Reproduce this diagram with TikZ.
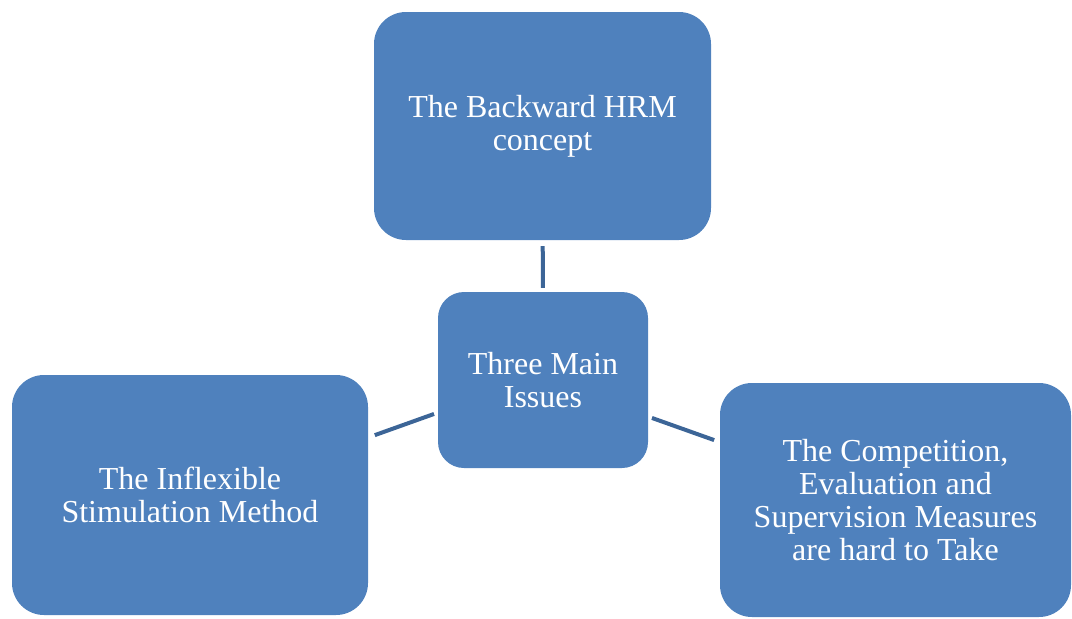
\documentclass[tikz,border=0pt]{standalone}
\usepackage{fontspec}
\setmainfont{Liberation Serif}
\newfontfamily\timesfont{Liberation Serif}
\definecolor{boxblue}{HTML}{4F81BD}
\definecolor{linkblue}{HTML}{3C6597}
\begin{document}
\begin{tikzpicture}[x=1pt,y=-1pt,
  issuebox/.style={fill=boxblue, text=white, rounded corners=32pt, align=center,
    inner sep=0pt, font=\timesfont\fontsize{32}{33}\selectfont},
  link/.style={draw=linkblue, line width=4pt}]
\useasboundingbox (0,0) rectangle (1072,619);
\node[issuebox, minimum width=337pt, minimum height=228pt] (top) at (542.5,126) {The Backward HRM\\concept};
\node[issuebox, minimum width=210pt, minimum height=176pt, rounded corners=26pt] (mid) at (543,380) {Three Main\\Issues};
\node[issuebox, minimum width=356pt, minimum height=240pt] (left) at (190,495) {The Inflexible\\Stimulation Method};
\node[issuebox, minimum width=351pt, minimum height=234pt] (right) at (895.5,500) {The Competition,\\Evaluation and\\Supervision Measures\\are hard to Take};
\draw[link, shorten <=6pt, shorten >=4pt] (top) -- (mid);
\draw[link, shorten <=7pt, shorten >=4pt] ([yshift=57.5pt]left.east) -- ([yshift=-32.6pt]mid.west);
\draw[link, shorten <=4pt, shorten >=6pt] ([yshift=-36.6pt]mid.east) -- ([yshift=57.9pt]right.west);
\end{tikzpicture}
\end{document}
